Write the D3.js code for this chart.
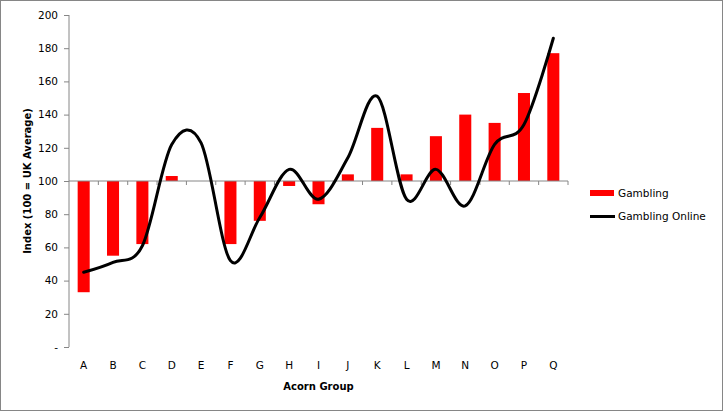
<!DOCTYPE html>
<html>
<head>
<meta charset="utf-8">
<script src="https://cdn.jsdelivr.net/npm/d3@7"></script>
<style>
  body { margin: 0; background: #fff; }
  text { font-family: "DejaVu Sans", Verdana, sans-serif; fill: #000; }
</style>
</head>
<body>
<script>
// Acorn groups and index values (100 = UK average)
var categories = ["A","B","C","D","E","F","G","H","I","J","K","L","M","N","O","P","Q"];
var gambling = [33, 55, 62, 103, 100, 62, 76, 97, 86, 104, 132, 104, 127, 140, 135, 153, 177];
var gamblingOnline = [45, 51, 61, 122, 123, 52, 78, 107, 89, 114, 151, 89, 107, 85, 122, 134, 186];
var yTicks = [0, 20, 40, 60, 80, 100, 120, 140, 160, 180, 200];

var width = 723, height = 411;
var plotLeft = 69, plotRight = 568, plotTop = 15, plotBottom = 347;

var svg = d3.select("body").append("svg")
            .attr("width", width)
            .attr("height", height);

// chart frame
svg.append("rect")
   .attr("x", 0.5).attr("y", 0.5)
   .attr("width", width - 1).attr("height", height - 1)
   .attr("fill", "#fff").attr("stroke", "#868686");

var x = d3.scaleBand().domain(categories).range([plotLeft, plotRight]).padding(0);
var y = d3.scaleLinear().domain([0, 200]).range([plotBottom, plotTop]);
var barW = x.bandwidth() * 0.41;

// y axis
var yAxis = svg.append("g")
   .attr("transform", "translate(" + plotLeft + ",0)")
   .call(d3.axisLeft(y).tickValues(yTicks).tickSize(5).tickPadding(6)
          .tickFormat(function(d){ return d === 0 ? "-" : d; }));
yAxis.selectAll("path,line").attr("stroke", "#868686");
yAxis.select(".domain").attr("d", "M0," + y(200) + "V" + y(0));
yAxis.selectAll("text").style("font-size", "10.5px").attr("fill", "#000");

// bars from the 100 baseline
svg.selectAll("rect.bar")
   .data(gambling)
   .enter()
   .append("rect")
   .attr("class", "bar")
   .attr("x", function(d, i){ return x(categories[i]) + (x.bandwidth() - barW) / 2; })
   .attr("y", function(d){ return y(Math.max(d, 100)); })
   .attr("width", barW)
   .attr("height", function(d){ return Math.abs(y(d) - y(100)); })
   .attr("fill", "#ff0000");

// x axis crossing at 100
var axisY = y(100);
svg.append("line")
   .attr("x1", plotLeft).attr("x2", plotRight)
   .attr("y1", axisY).attr("y2", axisY)
   .attr("stroke", "#868686");
var bounds = categories.map(function(c){ return x(c); }).concat([plotRight]);
svg.selectAll("line.xtick")
   .data(bounds.slice(1))
   .enter()
   .append("line")
   .attr("class", "xtick")
   .attr("x1", function(d){ return d; }).attr("x2", function(d){ return d; })
   .attr("y1", axisY).attr("y2", axisY + 4)
   .attr("stroke", "#868686");

svg.selectAll("text.xlab")
   .data(categories)
   .enter()
   .append("text")
   .attr("class", "xlab")
   .attr("x", function(d){ return x(d) + x.bandwidth() / 2; })
   .attr("y", 369)
   .attr("text-anchor", "middle")
   .style("font-size", "10.5px")
   .text(function(d){ return d; });

// smoothed line
var line = d3.line()
   .x(function(d, i){ return x(categories[i]) + x.bandwidth() / 2; })
   .y(function(d){ return y(d); })
   .curve(d3.curveCatmullRom.alpha(0));
svg.append("path")
   .datum(gamblingOnline)
   .attr("d", line)
   .attr("fill", "none")
   .attr("stroke", "#000")
   .attr("stroke-width", 3)
   .attr("stroke-linecap", "round");

// axis titles
svg.append("text")
   .attr("x", (plotLeft + plotRight) / 2)
   .attr("y", 390)
   .attr("text-anchor", "middle")
   .style("font-size", "10px").style("font-weight", "bold")
   .text("Acorn Group");
svg.append("text")
   .attr("transform", "translate(31," + (plotTop + plotBottom) / 2 + ") rotate(-90)")
   .attr("text-anchor", "middle")
   .style("font-size", "10px").style("font-weight", "bold")
   .text("Index (100 = UK Average)");

// legend
var legend = svg.append("g");
legend.append("rect")
   .attr("x", 590).attr("y", 190).attr("width", 24).attr("height", 6)
   .attr("fill", "#ff0000");
legend.append("text")
   .attr("x", 618).attr("y", 197)
   .style("font-size", "10.5px")
   .text("Gambling");
legend.append("line")
   .attr("x1", 590).attr("x2", 615).attr("y1", 216.5).attr("y2", 216.5)
   .attr("stroke", "#000").attr("stroke-width", 3);
legend.append("text")
   .attr("x", 618).attr("y", 220)
   .style("font-size", "10.5px")
   .text("Gambling Online");
</script>
</body>
</html>
